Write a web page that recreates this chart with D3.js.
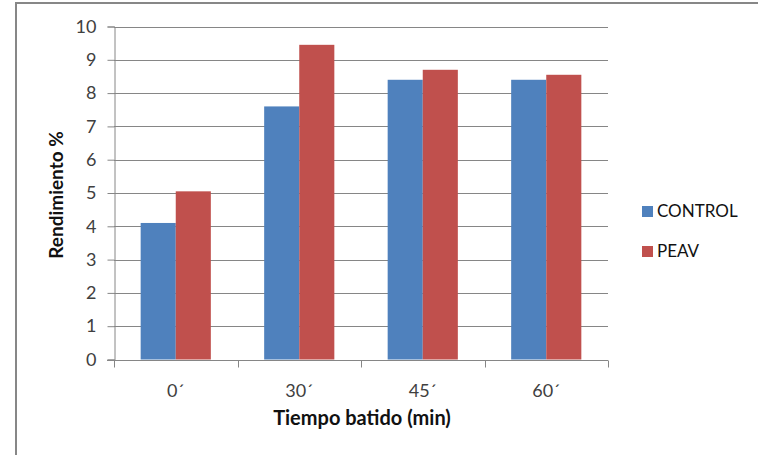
<!DOCTYPE html>
<html>
<head>
<meta charset="utf-8">
<script src="https://cdn.jsdelivr.net/npm/d3@7"></script>
<style>
  html, body { margin: 0; padding: 0; background: #fff; }
  svg text { font-family: Lato, "Open Sans", sans-serif; fill: #404040; }
</style>
</head>
<body>
<svg id="chart" width="758" height="455"></svg>
<script>
// Rendimiento por tiempo de batido
const categories = ["0´", "30´", "45´", "60´"];
const seriesNames = ["CONTROL", "PEAV"];
const controlValues = [4.1, 7.6, 8.4, 8.4];
const peavValues = [5.05, 9.45, 8.7, 8.55];
const yTicks = [0, 1, 2, 3, 4, 5, 6, 7, 8, 9, 10];
const colors = ["#4F81BD", "#C0504D"];

const series = [controlValues, peavValues];

const svg = d3.select("#chart");
const W = 758, H = 455;
const plot = { left: 114, right: 608, top: 26.5, bottom: 359.5 };

// outer frame (top and left edges visible)
svg.append("rect")
  .attr("x", 16).attr("y", 3)
  .attr("width", W + 10).attr("height", H + 10)
  .attr("fill", "none").attr("stroke", "#878787").attr("stroke-width", 2);

const x0 = d3.scaleBand().domain(categories).range([plot.left, plot.right]).paddingInner(0).paddingOuter(0);
const x1 = d3.scaleBand().domain(seriesNames).range([0, x0.bandwidth()]).paddingInner(0).paddingOuter(0.76);
const y = d3.scaleLinear().domain([0, 10]).range([plot.bottom, plot.top]);

// gridlines
svg.append("g")
  .selectAll("line")
  .data(yTicks.filter(d => d > 0))
  .join("line")
  .attr("x1", plot.left).attr("x2", plot.right)
  .attr("y1", d => Math.round(y(d)) + 0.5).attr("y2", d => Math.round(y(d)) + 0.5)
  .attr("stroke", "#868686").attr("stroke-width", 1);

// bars
const groups = svg.append("g")
  .selectAll("g")
  .data(categories)
  .join("g")
  .attr("transform", d => `translate(${x0(d)},0)`);

groups.selectAll("rect")
  .data((d, i) => seriesNames.map((s, j) => ({ s, v: series[j][i], j })))
  .join("rect")
  .attr("x", d => x1(d.s))
  .attr("width", x1.bandwidth())
  .attr("y", d => y(d.v))
  .attr("height", d => y(0) - y(d.v))
  .attr("fill", d => colors[d.j]);

// y axis
const yAxis = svg.append("g")
  .attr("transform", `translate(${plot.left + 0.5},0)`)
  .call(d3.axisLeft(y).tickValues(yTicks).tickSize(7).tickPadding(11).tickFormat(d3.format("d")));
yAxis.select(".domain").attr("stroke", "#868686");
yAxis.selectAll(".tick line").attr("stroke", "#868686");
yAxis.selectAll(".tick text").attr("font-size", 18).attr("fill", "#404040")
  .style("font-family", "Lato, 'Open Sans', sans-serif");

// x axis with ticks at category boundaries
const xAxis = svg.append("g").attr("transform", `translate(0,${Math.round(plot.bottom) + 0.5})`);
xAxis.append("line")
  .attr("x1", plot.left - 7).attr("x2", plot.right)
  .attr("stroke", "#868686");
xAxis.selectAll("line.tk")
  .data(categories.concat([null]))
  .join("line")
  .attr("class", "tk")
  .attr("x1", (d, i) => Math.round(plot.left + i * x0.step()) + 0.5)
  .attr("x2", (d, i) => Math.round(plot.left + i * x0.step()) + 0.5)
  .attr("y1", 0).attr("y2", 7)
  .attr("stroke", "#868686");
xAxis.selectAll("text")
  .data(categories)
  .join("text")
  .attr("x", d => x0(d) + x0.bandwidth() / 2)
  .attr("y", 36)
  .attr("text-anchor", "middle")
  .attr("font-size", 18)
  .text(d => d);

// axis titles
svg.append("text")
  .attr("x", 362).attr("y", 425)
  .attr("text-anchor", "middle")
  .attr("font-size", 20).attr("font-weight", "bold")
  .style("fill", "#111")
  .text("Tiempo batido (min)");

svg.append("text")
  .attr("transform", "translate(63,195) rotate(-90)")
  .attr("text-anchor", "middle")
  .attr("font-size", 19).attr("font-weight", "bold")
  .style("fill", "#111")
  .text("Rendimiento %");

// legend
const legend = svg.append("g")
  .selectAll("g")
  .data(seriesNames)
  .join("g")
  .attr("transform", (d, i) => `translate(642,${206 + i * 40})`);
legend.append("rect")
  .attr("width", 11).attr("height", 11)
  .attr("fill", (d, i) => colors[i]);
legend.append("text")
  .attr("x", 15).attr("y", 11)
  .attr("font-size", 17)
  .style("fill", "#111")
  .text(d => d);
</script>
</body>
</html>
